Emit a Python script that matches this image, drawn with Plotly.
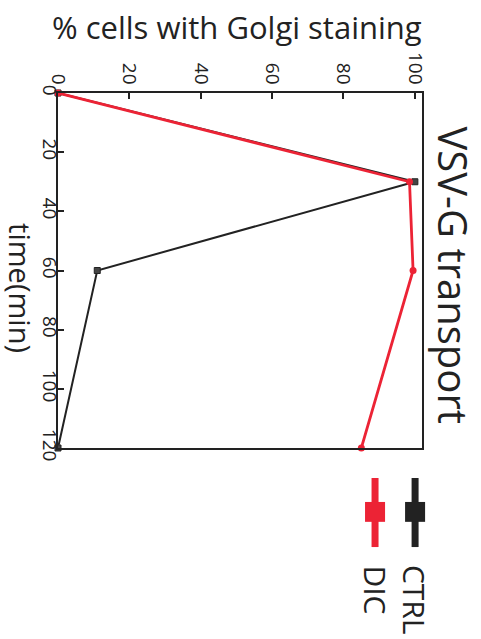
import plotly.graph_objects as go

# Time course of VSV-G arrival at the Golgi
time_min = [0, 30, 60, 120]
ctrl_pct = [0, 100, 11, 0]
dic_pct = [0, 98.5, 99.5, 85]

pct_ticks = [0, 20, 40, 60, 80, 100]
time_ticks = [0, 20, 40, 60, 80, 100, 120]

RED = "#ec2335"
BLACK = "#222222"
FONT = "Open Sans"

fig = go.Figure()

fig.add_trace(go.Scatter(
    x=ctrl_pct, y=time_min, mode="lines+markers", name="CTRL",
    line=dict(color=BLACK, width=2),
    marker=dict(symbol="square", size=6, color="#444444",
                line=dict(color=BLACK, width=1)),
    cliponaxis=False, showlegend=False,
))
fig.add_trace(go.Scatter(
    x=dic_pct, y=time_min, mode="lines+markers", name="DIC",
    line=dict(color=RED, width=2.8),
    marker=dict(symbol="circle", size=7, color=RED),
    cliponaxis=False, showlegend=False,
))

axis_common = dict(
    showline=True, linecolor=BLACK, linewidth=1.5, mirror=True,
    ticks="inside", ticklen=6, tickwidth=1.5, tickcolor=BLACK,
    tickangle=90, showgrid=False, zeroline=False,
    tickfont=dict(family=FONT, size=19, color="#222222"),
)

fig.update_layout(
    width=481, height=639,
    margin=dict(l=58, r=59, t=93, b=191),
    paper_bgcolor="white", plot_bgcolor="white",
    xaxis=dict(side="top", range=[0, 102], tickvals=pct_ticks, **axis_common),
    yaxis=dict(range=[120, 0], tickvals=time_ticks, ticklabelstandoff=-10,
               **axis_common),
    font=dict(family=FONT, color="#222222"),
)

# Axis titles and chart title
fig.add_annotation(text="% cells with Golgi staining", xref="paper", yref="paper",
                   x=0.493, y=1, yshift=66, xanchor="center", yanchor="middle",
                   showarrow=False, font=dict(family=FONT, size=31, color="#222222"))
fig.add_annotation(text="time(min)", xref="paper", yref="paper",
                   x=-0.105, y=0.451, xanchor="center", yanchor="middle",
                   textangle=90, showarrow=False,
                   font=dict(family=FONT, size=29, color="#222222"))
fig.add_annotation(text="VSV-G transport", xref="paper", yref="paper",
                   x=1.087, y=0.487, xanchor="center", yanchor="middle",
                   textangle=90, showarrow=False,
                   font=dict(family=FONT, size=40, color="#222222"))

# Legend drawn as vertical error-bar glyphs with rotated labels
legend_items = [("CTRL", BLACK, 0.981), ("DIC", RED, 0.871)]
for label, color, xp in legend_items:
    fig.add_shape(type="line", xref="paper", yref="paper",
                  x0=xp, x1=xp, y0=-0.0845, y1=-0.279,
                  line=dict(color=color, width=7))
    fig.add_shape(type="rect", xref="paper", yref="paper",
                  x0=xp - 0.0275, x1=xp + 0.0275, y0=-0.152, y1=-0.208,
                  fillcolor=color, line=dict(width=0))
    fig.add_annotation(text=label, xref="paper", yref="paper", x=xp, y=-0.324,
                       xanchor="center", yanchor="top", textangle=90,
                       showarrow=False,
                       font=dict(family=FONT, size=30, color="#222222"))

fig.write_html("out.html")
